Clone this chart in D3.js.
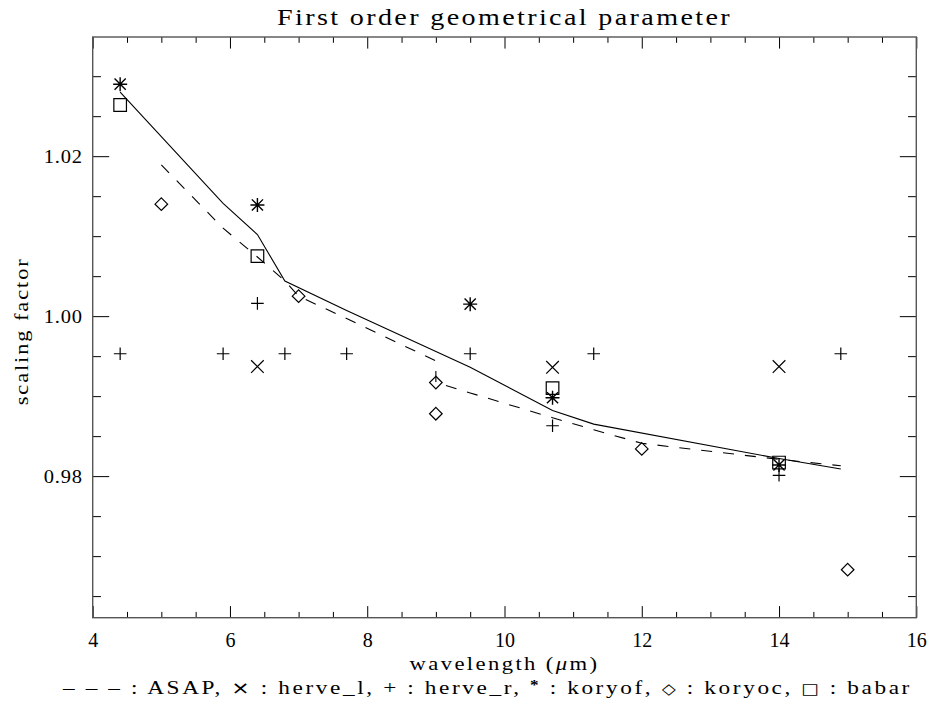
<!DOCTYPE html>
<html>
<head>
<meta charset="utf-8">
<script src="https://cdn.jsdelivr.net/npm/d3@7"></script>
<style>
  body { margin: 0; background: #fff; }
  svg { display: block; }
  text { font-family: "Liberation Serif", "DejaVu Serif", serif; fill: #000; }
</style>
</head>
<body>
<svg id="chart" width="932" height="704"></svg>
<script>
// Axis ticks
const xMajorTicks = [4, 6, 8, 10, 12, 14, 16];
const xMinorTicks = [4.5, 5, 5.5, 6.5, 7, 7.5, 8.5, 9, 9.5, 10.5, 11, 11.5, 12.5, 13, 13.5, 14.5, 15, 15.5];
const yMajorTicks = [0.98, 1.00, 1.02];
const yMinorTicks = [0.965, 0.97, 0.975, 0.985, 0.99, 0.995, 1.005, 1.01, 1.015, 1.025, 1.03];

// Model curves: solid reference curve and ASAP (dashed)
const solidX = [4.4, 5.9, 6.4, 6.8, 7.7, 9.5, 10.7, 11.3, 14.0, 14.9];
const solidY = [1.0280, 1.0141, 1.0102, 1.0044, 1.0007, 0.9936, 0.9882, 0.9865, 0.9822, 0.9809];
const asapX = [5.0, 5.9, 6.4, 6.8, 7.0, 7.7, 9.0, 9.0, 9.5, 10.7, 11.3, 12.0, 14.0, 14.9];
const asapY = [1.0189, 1.0110, 1.0074, 1.0044, 1.0025, 0.9997, 0.9944, 0.9917, 0.9904, 0.9873, 0.9858, 0.9841, 0.9821, 0.9813];

// Measurements
const herveLX = [6.4, 10.7, 14.0];
const herveLY = [0.9937, 0.9936, 0.9937];
const herveRX = [4.4, 5.9, 6.8, 7.7, 9.5, 11.3, 14.9, 6.4, 10.7, 14.0];
const herveRY = [0.9953, 0.9953, 0.9953, 0.9953, 0.9953, 0.9953, 0.9953, 1.0016, 0.9863, 0.9801];
const koryofX = [4.4, 6.4, 9.5, 10.7, 14.0];
const koryofY = [1.0290, 1.0139, 1.0015, 0.9898, 0.9814];
const koryocX = [5.0, 7.0, 9.0, 9.0, 12.0, 15.0];
const koryocY = [1.0140, 1.0025, 0.9917, 0.9878, 0.9834, 0.9683];
const babarX = [4.4, 6.4, 10.7, 14.0];
const babarY = [1.0264, 1.0075, 0.9910, 0.9817];

const svg = d3.select("#chart");
const L = 92.7, R = 916.3, T = 37, B = 617.7;

const x = d3.scaleLinear().domain([4, 16]).range([L, R]);
const y = d3.scaleLinear().domain([0.9623, 1.0349]).range([B, T]);

const xTickLen = 11.6, yTickLen = 16.5;

// widen a text run to a given length: half by letter spacing, half by glyph stretch
function fitText(sel, W) {
  sel.each(function () {
    const n = this.getNumberOfChars();
    const w0 = this.getComputedTextLength();
    const ls = Math.max(0, (W - w0) / 2 / n);
    d3.select(this).attr("letter-spacing", ls)
      .attr("textLength", W).attr("lengthAdjust", "spacingAndGlyphs");
  });
}

function styleAxis(g) {
  g.select(".domain").remove();
  g.selectAll(".tick line").attr("stroke", "#000").attr("stroke-width", 1);
}

// bottom axis
svg.append("g").attr("transform", `translate(0,${B})`)
  .call(d3.axisBottom(x).tickValues(xMinorTicks).tickSize(-xTickLen / 2).tickFormat(""))
  .call(styleAxis);
const xb = svg.append("g").attr("transform", `translate(0,${B})`)
  .call(d3.axisBottom(x).tickValues(xMajorTicks).tickSize(-xTickLen).tickPadding(15).tickFormat(d3.format("d")))
  .call(styleAxis);
xb.selectAll(".tick text").attr("font-size", 20);

// top axis (mirror)
svg.append("g").attr("transform", `translate(0,${T})`)
  .call(d3.axisTop(x).tickValues(xMinorTicks).tickSize(-xTickLen / 2).tickFormat(""))
  .call(styleAxis);
svg.append("g").attr("transform", `translate(0,${T})`)
  .call(d3.axisTop(x).tickValues(xMajorTicks).tickSize(-xTickLen).tickFormat(""))
  .call(styleAxis);

// left axis
svg.append("g").attr("transform", `translate(${L},0)`)
  .call(d3.axisLeft(y).tickValues(yMinorTicks).tickSize(-yTickLen / 2).tickFormat(""))
  .call(styleAxis);
const yl = svg.append("g").attr("transform", `translate(${L},0)`)
  .call(d3.axisLeft(y).tickValues(yMajorTicks).tickSize(-yTickLen).tickPadding(10).tickFormat(d3.format(".2f")))
  .call(styleAxis);
yl.selectAll(".tick text").attr("font-size", 19).call(fitText, 39);

// right axis (mirror)
svg.append("g").attr("transform", `translate(${R},0)`)
  .call(d3.axisRight(y).tickValues(yMinorTicks).tickSize(-yTickLen / 2).tickFormat(""))
  .call(styleAxis);
svg.append("g").attr("transform", `translate(${R},0)`)
  .call(d3.axisRight(y).tickValues(yMajorTicks).tickSize(-yTickLen).tickFormat(""))
  .call(styleAxis);

// frame
svg.append("rect").attr("x", L).attr("y", T).attr("width", R - L).attr("height", B - T)
  .attr("fill", "none").attr("stroke", "#555").attr("stroke-width", 1.4);

// curves
const line = d3.line().x(d => x(d[0])).y(d => y(d[1]));
svg.append("path").datum(d3.zip(solidX, solidY)).attr("d", line)
  .attr("fill", "none").attr("stroke", "#000").attr("stroke-width", 1.1);
svg.append("path").datum(d3.zip(asapX, asapY)).attr("d", line)
  .attr("fill", "none").attr("stroke", "#000").attr("stroke-width", 1.1)
  .attr("stroke-dasharray", "11,11");

// markers
const r = 6.3, rs = 7;
const symbols = {
  cross: `M${-r},${-r}L${r},${r}M${-r},${r}L${r},${-r}`,
  plus: `M${-r},0L${r},0M0,${-r}L0,${r}`,
  star: `M${-rs},0L${rs},0M0,${-rs}L0,${rs}M${-rs * 0.8},${-rs * 0.8}L${rs * 0.8},${rs * 0.8}M${-rs * 0.8},${rs * 0.8}L${rs * 0.8},${-rs * 0.8}`,
  diamond: `M0,${-r}L${r},0L0,${r}L${-r},0Z`,
  square: `M${-r},${-r}H${r}V${r}H${-r}Z`
};
function drawMarkers(xs, ys, sym, cls, sw) {
  svg.append("g").attr("class", cls).selectAll("path").data(d3.zip(xs, ys)).join("path")
    .attr("transform", d => `translate(${x(d[0])},${y(d[1])})`)
    .attr("d", symbols[sym]).attr("fill", "none").attr("stroke", "#000").attr("stroke-width", sw);
}
drawMarkers(herveLX, herveLY, "cross", "herve-l", 1.2);
drawMarkers(herveRX, herveRY, "plus", "herve-r", 1.2);
drawMarkers(koryofX, koryofY, "star", "koryof", 1.4);
drawMarkers(koryocX, koryocY, "diamond", "koryoc", 1.2);
drawMarkers(babarX, babarY, "square", "babar", 1.2);

// title and axis titles
svg.append("text").attr("x", (L + R) / 2).attr("y", 25).attr("text-anchor", "middle")
  .attr("font-size", 24).text("First order geometrical parameter")
  .call(fitText, 455);

svg.append("text").attr("transform", `translate(28,${(T + B) / 2 + 4}) rotate(-90)`)
  .attr("text-anchor", "middle").attr("font-size", 19)
  .text("scaling factor").call(fitText, 148);

const xl = svg.append("text").attr("x", (L + R) / 2).attr("y", 670).attr("text-anchor", "middle")
  .attr("font-size", 19);
xl.append("tspan").text("wavelength (");
xl.append("tspan").attr("font-style", "italic").text("\u03bc");
xl.append("tspan").text("m)");
xl.call(fitText, 190);

// key line
const key = svg.append("text").attr("x", 63).attr("y", 694).attr("font-size", 19);
key.append("tspan").text("\u2013 \u2013 \u2013 : ASAP,  ");
key.append("tspan").attr("font-family", "DejaVu Sans").attr("font-size", 18).text("\u00d7");
key.append("tspan").text(" : herve_l,  + : herve_r,  ");
key.append("tspan").attr("font-weight", "bold").attr("font-size", 14).attr("dy", -4).text("*");
key.append("tspan").attr("dy", 4).text(" : koryof,  ");
key.append("tspan").attr("font-family", "DejaVu Sans").attr("font-size", 15).text("\u25c7");
key.append("tspan").text(" : koryoc,  ");
key.append("tspan").attr("font-family", "DejaVu Sans").attr("font-size", 15).text("\u25a1");
key.append("tspan").text(" : babar");
key.call(fitText, 849);
</script>
</body>
</html>
